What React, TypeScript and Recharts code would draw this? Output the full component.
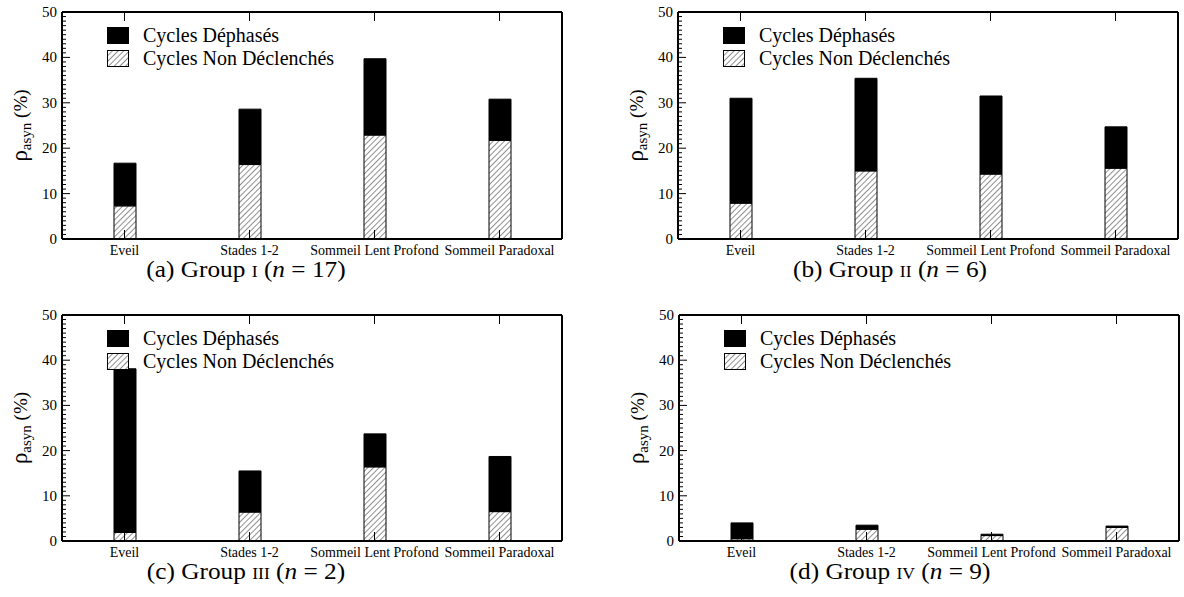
import React from 'react';
import { BarChart, Bar, XAxis, YAxis, Legend } from 'recharts';

const CATEGORIES = ['Eveil', 'Stades 1-2', 'Sommeil Lent Profond', 'Sommeil Paradoxal'];
const SERIES_NAMES = ['Cycles Déphasés', 'Cycles Non Déclenchés'];
const Y_ALL_TICKS = [
  0, 1, 2, 3, 4, 5, 6, 7, 8, 9, 10, 11, 12, 13, 14, 15, 16, 17, 18, 19, 20, 21, 22, 23, 24, 25,
  26, 27, 28, 29, 30, 31, 32, 33, 34, 35, 36, 37, 38, 39, 40, 41, 42, 43, 44, 45, 46, 47, 48, 49, 50,
];

// Group I (n = 17)
const G1_NON_DECL = [7.3, 16.4, 22.9, 21.7];
const G1_DEPHASES = [9.4, 12.2, 16.8, 9.1];
// Group II (n = 6)
const G2_NON_DECL = [7.9, 15.0, 14.3, 15.6];
const G2_DEPHASES = [23.1, 20.4, 17.2, 9.1];
// Group III (n = 2)
const G3_NON_DECL = [1.9, 6.4, 16.4, 6.5];
const G3_DEPHASES = [36.2, 9.1, 7.3, 12.2];
// Group IV (n = 9)
const G4_NON_DECL = [0.5, 2.6, 1.2, 3.0];
const G4_DEPHASES = [3.5, 0.9, 0.3, 0.3];

const SERIF = '"Liberation Serif", "Times New Roman", serif';
const AXIS_LINE = { stroke: '#000', strokeWidth: 2 };

const LeftTick = (props: any) => {
  const { x, y, payload } = props;
  const v = payload.value;
  const major = v % 10 === 0;
  return (
    <g>
      <line x1={x} y1={y} x2={x + (major ? 8 : 4)} y2={y} stroke="#000" strokeWidth={1} />
      {major && (
        <text x={x - 5} y={y} dy={5} textAnchor="end" fontFamily={SERIF} fontSize={15} fill="#000">
          {v}
        </text>
      )}
    </g>
  );
};

const RightTick = (props: any) => {
  const { x, y, payload } = props;
  const major = payload.value % 10 === 0;
  return <line x1={x} y1={y} x2={x - (major ? 10 : 5)} y2={y} stroke="#000" strokeWidth={1} />;
};

const TopTick = (props: any) => {
  const { x, y } = props;
  return <line x1={x} y1={y} x2={x} y2={y + 9} stroke="#000" strokeWidth={1} />;
};

const BottomTick = (props: any) => {
  const { x, y, payload } = props;
  return (
    <g>
      <line x1={x} y1={y} x2={x} y2={y - 9} stroke="#000" strokeWidth={1} />
      <text x={x} y={y} dy={16} textAnchor="middle" fontFamily={SERIF} fontSize={14} fill="#000">
        {payload.value}
      </text>
    </g>
  );
};

const YLabel = (props: any) => {
  const vb = props.viewBox || { x: 0, y: 0, width: 62, height: 227 };
  const cx = vb.x + 27;
  const cy = vb.y + vb.height / 2;
  return (
    <text transform={`translate(${cx}, ${cy}) rotate(-90)`} textAnchor="middle" fontFamily={SERIF} fill="#000">
      <tspan fontSize={23}>ρ</tspan>
      <tspan fontSize={15} dy={4}>asyn</tspan>
      <tspan fontSize={19} dy={-4}>{'  (%)'}</tspan>
    </text>
  );
};

const Swatch = ({ hatched }: { hatched: boolean }) => (
  <svg width={22} height={17} style={{ display: 'block' }}>
    <rect x={0.5} y={0.5} width={21} height={16} fill={hatched ? 'url(#hatch)' : '#000'} stroke="#000" strokeWidth={1} />
  </svg>
);

const LegendContent = () => (
  <div style={{ fontFamily: SERIF, fontSize: 20, color: '#000', lineHeight: '23px' }}>
    {SERIES_NAMES.map((name, i) => (
      <div key={name} style={{ display: 'flex', alignItems: 'center', height: 23, whiteSpace: 'nowrap' }}>
        <Swatch hatched={i === 1} />
        <span style={{ marginLeft: 14 }}>{name}</span>
      </div>
    ))}
  </div>
);

type PanelProps = {
  left: number;
  top: number;
  height: number;
  nonDecl: number[];
  dephases: number[];
};

const Panel = ({ left, top, height, nonDecl, dephases }: PanelProps) => {
  const rows = CATEGORIES.map((cat, i) => ({ cat, nonDecl: nonDecl[i], dephases: dephases[i] }));
  return (
    <div style={{ position: 'absolute', left, top }}>
      <BarChart width={568} height={height} data={rows} margin={{ top: 11, right: 5, bottom: 1, left: 0 }} barSize={22}>
        <XAxis xAxisId="t" orientation="top" dataKey="cat" height={1} tickSize={0} tickMargin={0} tickLine={false} axisLine={AXIS_LINE} tick={TopTick} interval={0} />
        <XAxis xAxisId="b" dataKey="cat" height={20} tickSize={0} tickMargin={0} tickLine={false} axisLine={AXIS_LINE} tick={BottomTick} interval={0} />
        <YAxis yAxisId="l" type="number" domain={[0, 50]} ticks={Y_ALL_TICKS} interval={0} width={62} tickSize={0} tickMargin={0} tickLine={false} axisLine={AXIS_LINE} tick={LeftTick} label={{ content: YLabel }} />
        <YAxis yAxisId="r" orientation="right" type="number" domain={[0, 50]} ticks={Y_ALL_TICKS} interval={0} width={1} tickSize={0} tickMargin={0} tickLine={false} axisLine={AXIS_LINE} tick={RightTick} />
        <Legend layout="vertical" align="center" verticalAlign="middle" wrapperStyle={{ left: 107, top: 24, width: 'auto', height: 'auto' }} content={LegendContent} />
        <Bar name={SERIES_NAMES[1]} dataKey="nonDecl" stackId="s" xAxisId="b" yAxisId="l" fill="url(#hatch)" stroke="#000" strokeWidth={1} isAnimationActive={false} />
        <Bar name={SERIES_NAMES[0]} dataKey="dephases" stackId="s" xAxisId="b" yAxisId="l" fill="#000" stroke="#000" strokeWidth={1} isAnimationActive={false} />
      </BarChart>
    </div>
  );
};

const Caption = ({ cx, cy, letter, group, n }: { cx: number; cy: number; letter: string; group: string; n: string }) => (
  <div
    style={{
      position: 'absolute',
      left: cx - 200,
      top: cy - 15,
      width: 400,
      height: 30,
      lineHeight: '30px',
      textAlign: 'center',
      fontFamily: SERIF,
      fontSize: 23,
      color: '#000',
      whiteSpace: 'nowrap',
      transform: 'scaleX(1.1)',
    }}
  >
    ({letter}) Group <span style={{ fontVariant: 'small-caps' }}>{group}</span> (<i>n</i> = {n})
  </div>
);

export default function App() {
  return (
    <div style={{ position: 'absolute', left: 0, top: 0, width: 1184, height: 597, overflow: 'hidden', background: '#fff' }}>
      <svg width={0} height={0} style={{ position: 'absolute' }}>
        <defs>
          <pattern id="hatch" patternUnits="userSpaceOnUse" width={4} height={4} patternTransform="rotate(45)">
            <rect width={4} height={4} fill="#fff" />
            <line x1={0} y1={0} x2={0} y2={4} stroke="#222" strokeWidth={1} />
          </pattern>
        </defs>
      </svg>
      <Panel left={0} top={0} height={260} nonDecl={G1_NON_DECL} dephases={G1_DEPHASES} />
      <Panel left={616} top={0} height={260} nonDecl={G2_NON_DECL} dephases={G2_DEPHASES} />
      <Panel left={0} top={303} height={259} nonDecl={G3_NON_DECL} dephases={G3_DEPHASES} />
      <Panel left={617} top={303} height={259} nonDecl={G4_NON_DECL} dephases={G4_DEPHASES} />
      <Caption cx={246} cy={270} letter="a" group="i" n="17" />
      <Caption cx={890} cy={270} letter="b" group="ii" n="6" />
      <Caption cx={246} cy={572} letter="c" group="iii" n="2" />
      <Caption cx={890} cy={572} letter="d" group="iv" n="9" />
    </div>
  );
}
